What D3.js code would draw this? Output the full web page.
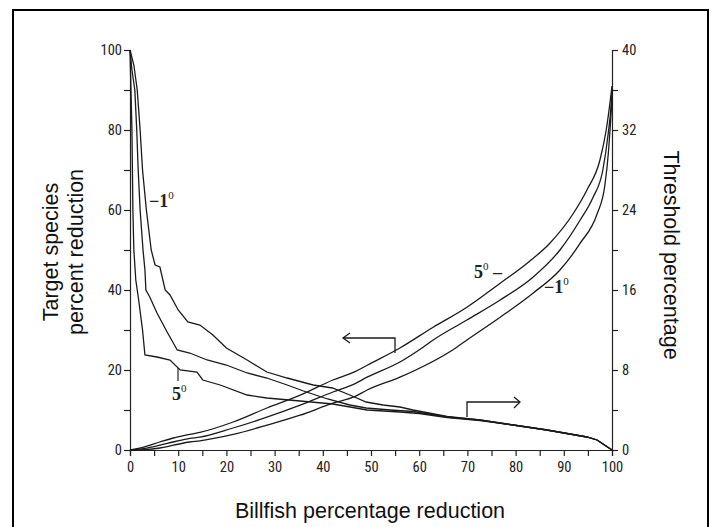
<!DOCTYPE html>
<html>
<head>
<meta charset="utf-8">
<script src="https://cdn.jsdelivr.net/npm/d3@7"></script>
<style>
  body { margin: 0; background: #fff; }
  .tick text { font-family: "Liberation Sans Narrow", "Roboto Condensed", "Liberation Sans", Arial, sans-serif; font-stretch: condensed; font-size: 14.5px; fill: #222; }
  .title { font-family: "Liberation Sans", Arial, sans-serif; font-size: 21.5px; fill: #111; }
  .curve { fill: none; stroke: #1a1a1a; stroke-width: 1.3; }
  .lab { font-family: "Liberation Serif", "DejaVu Serif", serif; font-weight: bold; font-size: 18px; fill: #222; }
</style>
</head>
<body>
<svg width="715" height="527"></svg>
<script>
// x axis ticks (billfish % reduction)
var xTicks = [0,5,10,15,20,25,30,35,40,45,50,55,60,65,70,75,80,85,90,95,100];
var leftTicks = [0,10,20,30,40,50,60,70,80,90,100];
var rightTicks = [0,4,8,12,16,20,24,28,32,36,40];

// threshold percentage curves (right axis), decreasing
var thresh1 = [[0,40],[0.8,38.5],[1.5,36],[2.1,32],[2.6,28],[3.4,24],[4.4,20],[5.2,18.5],[6.2,18.3],[7.3,16],[8.3,15.5],[10,14],[12,12.8],[14.5,12.5],[17.2,11.5],[20,10.2],[24.3,9],[28.4,7.8],[32.6,7.2],[38,6.5],[42,6.2],[45.6,5.5],[49,4.8],[52.5,4.5],[56,4.3],[58.7,4.0],[62,3.7],[65.8,3.35],[72.6,3.0],[79.5,2.5],[86.5,2.0],[94.8,1.3],[96.9,1.0],[100,0]];
var thresh3 = [[0,40],[0.4,38],[1.0,36],[1.4,32],[1.7,28],[2.1,24],[2.7,20],[3.1,18],[3.3,16],[4.1,15.3],[5.6,13.7],[7.7,11.8],[9.8,10],[12.4,9.7],[16,9],[20,8.5],[24.3,7.7],[28.4,7.2],[32.6,6.5],[36,5.9],[41,5.1],[45.6,4.5],[49,4.2],[54,4.0],[58.7,3.85],[62,3.6],[65.8,3.3],[72.6,3.0],[79.5,2.5],[86.5,2.0],[94.8,1.3],[96.9,1.0],[100,0]];
var thresh5 = [[0,40],[0.2,36],[0.4,32],[0.5,28],[0.6,24],[0.8,20],[1.2,17],[1.8,15],[2.6,12],[3.1,9.5],[5.6,9.3],[8.3,9],[10.4,8],[13.9,7.8],[15.1,7],[18.7,6.5],[24.3,5.5],[28.4,5.2],[35.3,4.9],[42.1,4.6],[49.2,4],[56,3.8],[60,3.65],[65.8,3.25],[72.6,2.95],[79.5,2.5],[86.5,2.0],[94.8,1.3],[96.9,1.0],[100,0]];

// target species percent reduction curves (left axis), increasing
var target5 = [[0,0],[3,0.8],[6.2,2],[9,3],[12.4,3.9],[14.5,4.4],[21.4,7],[28.4,10.5],[35.3,13.7],[42.1,17.5],[46.7,19.6],[49.2,21.2],[56,25.5],[62.9,30.7],[69.9,35.7],[76.8,41.7],[82.4,46.7],[87.1,51.7],[91.9,59],[94.8,65],[97.5,72.5],[98.8,80],[99.6,87],[100,91]];
var target3 = [[0,0],[3,0.4],[6.2,1.2],[9,2],[12.4,2.9],[14.5,3.2],[21.4,5.5],[28.4,8.2],[35.3,11.2],[42.1,14.5],[46.7,16.6],[49.2,18.2],[56,22],[60.8,25.7],[62.9,27.5],[69.9,32.5],[76.8,37.5],[83.6,43.2],[89.2,50],[93.4,57.5],[96,63],[98.1,70],[99.2,79],[99.8,86],[100,90]];
var target1 = [[0,0],[3,0.1],[6.2,0.5],[9,1.2],[12.4,2],[14.5,2.3],[21.4,3.9],[28.4,6.2],[35.3,8.7],[42.1,11.7],[46.7,13.4],[49.2,15],[56,18.2],[67.8,25.7],[69.9,27.5],[76.8,33.2],[83.6,39.2],[89.2,45],[93.4,51.7],[96.9,59],[98.5,66],[99.3,75],[99.7,82],[100,88]];

var svg = d3.select("svg");

svg.append("rect")
	.attr("x", 13).attr("y", 10)
	.attr("width", 695).attr("height", 530)
	.attr("fill", "none").attr("stroke", "#000").attr("stroke-width", 2);

var x = d3.scaleLinear().domain([0, 100]).range([130, 612]);
var yL = d3.scaleLinear().domain([0, 100]).range([450, 50]);
var yR = d3.scaleLinear().domain([0, 40]).range([450, 50]);

var bottom = svg.append("g")
	.attr("transform", "translate(0,450)")
	.call(d3.axisBottom(x).tickValues(xTicks).tickSize(6).tickPadding(6)
		.tickFormat(function(d){ return d % 10 == 0 ? d : ""; }));
var left = svg.append("g")
	.attr("transform", "translate(130,0)")
	.call(d3.axisLeft(yL).tickValues(leftTicks).tickSize(6).tickPadding(2)
		.tickFormat(function(d){ return d % 20 == 0 ? d : ""; }));
var right = svg.append("g")
	.attr("transform", "translate(612,0)")
	.call(d3.axisRight(yR).tickValues(rightTicks).tickSize(6).tickPadding(4)
		.tickFormat(function(d){ return d % 8 == 0 ? d : ""; }));

[bottom, left, right].forEach(function(g){
	g.select(".domain").attr("stroke", "#222").attr("stroke-width", 1.2);
	g.selectAll(".tick line").attr("stroke", "#222").attr("stroke-width", 1.2);
	g.attr("font-family", null).attr("font-size", null);
});

var lineR = d3.line().x(function(d){ return x(d[0]); }).y(function(d){ return yR(d[1]); });
var lineL = d3.line().x(function(d){ return x(d[0]); }).y(function(d){ return yL(d[1]); }).curve(d3.curveMonotoneX);

[thresh1, thresh3, thresh5].forEach(function(s){
	svg.append("path").attr("class", "curve").attr("d", lineR(s));
});
[target5, target3, target1].forEach(function(s){
	svg.append("path").attr("class", "curve").attr("d", lineL(s));
});

// arrows pointing to the axes
function arrow(pts, head){
	svg.append("path").attr("class", "curve").attr("d", d3.line()(pts));
	svg.append("path").attr("class", "curve").attr("d", d3.line()(head));
}
arrow([[395,353],[395,338],[343,338]], [[350,333],[343,338],[350,343]]);
arrow([[467,417],[467,402],[520,402]], [[514,397],[520,402],[514,408]]);

// degree labels
function lab(px, py, pre, digit, post){
	var t = svg.append("text").attr("class", "lab").attr("x", px).attr("y", py);
	t.append("tspan").text(pre + digit);
	t.append("tspan").attr("dy", -8).attr("font-size", 11).attr("font-weight", "normal").text("0");
	if (post) t.append("tspan").attr("dy", 8).text(post);
}
lab(149, 207, "\u2212", "1", "");
lab(172, 400, "", "5", "");
svg.append("line").attr("x1", 178).attr("x2", 178).attr("y1", 368).attr("y2", 381)
	.attr("stroke", "#222").attr("stroke-width", 1.2);
lab(474, 278, "", "5", " \u2013");
lab(544, 293, "\u2212", "1", "");

// axis titles
svg.append("text").attr("class", "title")
	.attr("transform", "translate(58,252) rotate(-90)")
	.attr("text-anchor", "middle").text("Target species");
svg.append("text").attr("class", "title")
	.attr("transform", "translate(83,252) rotate(-90)")
	.attr("text-anchor", "middle").text("percent reduction");
svg.append("text").attr("class", "title")
	.attr("transform", "translate(664,255) rotate(90)")
	.attr("text-anchor", "middle").text("Threshold percentage");
svg.append("text").attr("class", "title")
	.attr("x", 370).attr("y", 518)
	.attr("text-anchor", "middle").text("Billfish percentage reduction");
</script>
</body>
</html>
